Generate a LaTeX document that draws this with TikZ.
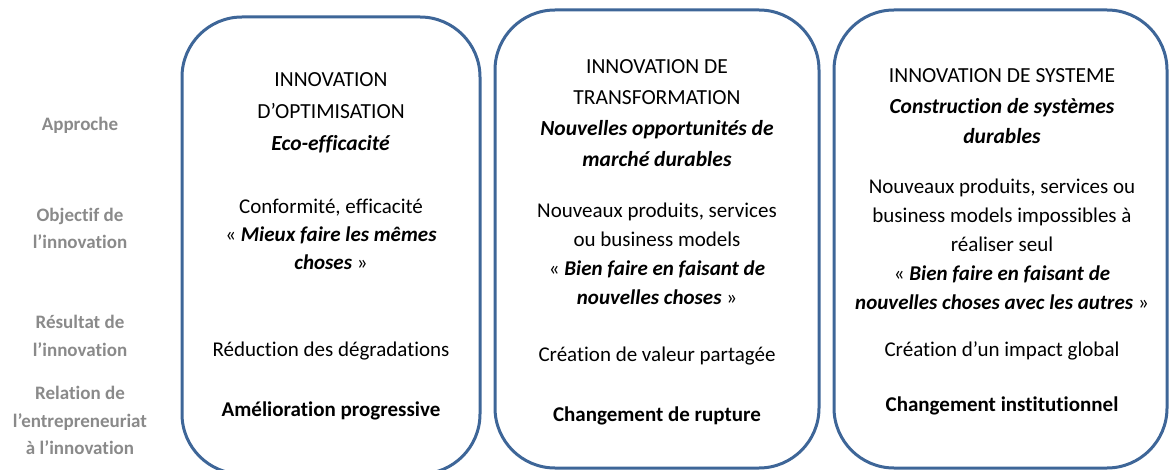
\documentclass[tikz,border=0pt]{standalone}
\usepackage{fontspec}
\setmainfont{Carlito}[Ligatures={NoCommon}]
\definecolor{boxblue}{RGB}{62,102,152}
\definecolor{lblgray}{RGB}{138,138,138}
\tikzset{
  panel/.style={draw=boxblue, line width=3pt, rounded corners=60pt, inner sep=0pt, fill=none},
  txt/.style={inner sep=0pt, align=center, text=black},
  lbl/.style={inner sep=0pt, align=center, text=lblgray, font=\bfseries\fontsize{19}{27.5}\selectfont}
}
\begin{document}
\begin{tikzpicture}[x=1pt,y=-1pt]
\useasboundingbox (0,0) rectangle (1170,470);
\begin{scope}
\clip (0,0) rectangle (1170,470);
\node[panel, minimum width=298pt, minimum height=457pt] (b1) at (331,245.5) {};
\node[panel, minimum width=324pt, minimum height=458pt] (b2) at (657,239) {};
\node[panel, minimum width=333pt, minimum height=458pt] (b3) at (1000.5,239) {};
\end{scope}

% left labels
\node[lbl] (l1) at (80,125) {Approche};
\node[lbl] (l2) at (80,228.5) {Objectif de\\l’innovation};
\node[lbl] (l3) at (80,336) {Résultat de\\l’innovation};
\node[lbl] (l4) at (80,420.5) {Relation de\\l’entrepreneuriat\\à l’innovation};

% box 1
\node[txt, font=\fontsize{21.5}{32}\selectfont] (t1) at (331,112.5) {INNOVATION\\D’OPTIMISATION\\\textbf{\textit{Eco-efficacité}}};
\node[txt, font=\fontsize{21}{28}\selectfont] (o1) at (331,234.5) {Conformité, efficacité\\« \textbf{\textit{Mieux faire les mêmes}}\\\textbf{\textit{choses}} »};
\node[txt, font=\fontsize{21}{28}\selectfont] (r1) at (331,351) {Réduction des dégradations};
\node[txt, font=\bfseries\fontsize{21}{28}\selectfont] (c1) at (331,411) {Amélioration progressive};

% box 2
\node[txt, font=\fontsize{21.5}{31}\selectfont] (t2) at (657,113.5) {INNOVATION DE\\TRANSFORMATION\\\textbf{\textit{Nouvelles opportunités de}}\\\textbf{\textit{marché durables}}};
\node[txt, font=\fontsize{21}{29}\selectfont] (o2) at (657,253.5) {Nouveaux produits, services\\ou business models\\« \textbf{\textit{Bien faire en faisant de}}\\\textbf{\textit{nouvelles choses}} »};
\node[txt, font=\fontsize{21}{28}\selectfont] (r2) at (657,356) {Création de valeur partagée};
\node[txt, font=\bfseries\fontsize{21}{28}\selectfont] (c2) at (657,416) {Changement de rupture};

% box 3
\node[txt, font=\fontsize{21.5}{30.5}\selectfont] (t3) at (1002,106.5) {INNOVATION DE SYSTEME\\\textbf{\textit{Construction de systèmes}}\\\textbf{\textit{durables}}};
\node[txt, font=\fontsize{21}{29}\selectfont] (o3) at (1002,244.5) {Nouveaux produits, services ou\\business models impossibles à\\réaliser seul\\« \textbf{\textit{Bien faire en faisant de}}\\\textbf{\textit{nouvelles choses avec les autres}} »};
\node[txt, font=\fontsize{21}{28}\selectfont] (r3) at (1002,351) {Création d’un impact global};
\node[txt, font=\bfseries\fontsize{21}{28}\selectfont] (c3) at (1002,406) {Changement institutionnel};
\end{tikzpicture}
\end{document}
